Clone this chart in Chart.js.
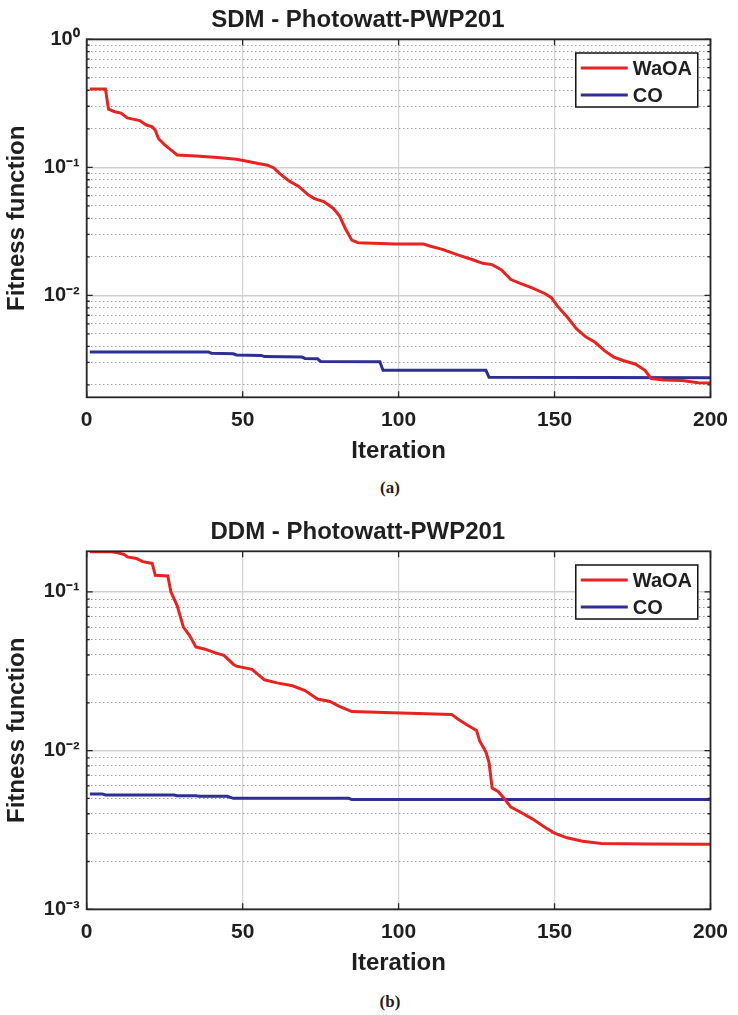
<!DOCTYPE html>
<html>
<head>
<meta charset="utf-8">
<script src="https://cdn.jsdelivr.net/npm/chart.js@4.4.1/dist/chart.umd.min.js"></script>
<style>
  html, body { margin: 0; padding: 0; background: #ffffff; }
  body { width: 738px; height: 1015px; position: relative; overflow: hidden; }
  canvas { position: absolute; left: 0; }
  #c1 { top: 0px; }
  #c2 { top: 512px; }
  .cap { position: absolute; width: 80px; left: 350px; text-align: center;
         font-family: "Liberation Serif", "Times New Roman", serif; font-weight: bold;
         font-size: 17px; color: #1f1f1f; line-height: 20px; }
  #capA { top: 478px; }
  #capB { top: 992px; }
</style>
</head>
<body>
<canvas id="c1" width="738" height="470"></canvas>
<canvas id="c2" width="738" height="470"></canvas>
<div class="cap" id="capA">(a)</div>
<div class="cap" id="capB">(b)</div>
<script>
// ---------- data ----------
const seriesNames = ['WaOA', 'CO'];

// (a) SDM - Photowatt-PWP201
const sdmWaoaIter = [1, 6, 7, 9, 11, 13, 17, 19, 21, 22, 23, 25, 27, 29, 35, 42, 48, 51, 55, 58, 60, 62, 65, 68, 71, 73, 76, 79, 81, 83, 85, 87, 99, 108, 110, 114, 119, 124, 127, 130, 133, 136, 139, 143, 147, 149, 151, 154, 157, 160, 163, 166, 169, 172, 176, 179, 181, 185, 191, 196, 200];
const sdmWaoaFit  = [0.41, 0.41, 0.285, 0.272, 0.265, 0.243, 0.232, 0.215, 0.207, 0.195, 0.168, 0.150, 0.137, 0.125, 0.1225, 0.1195, 0.1155, 0.112, 0.107, 0.104, 0.099, 0.089, 0.078, 0.071, 0.061, 0.057, 0.054, 0.048, 0.042, 0.033, 0.027, 0.0258, 0.0252, 0.0252, 0.0243, 0.0229, 0.0207, 0.0189, 0.0178, 0.0174, 0.0158, 0.0133, 0.0124, 0.0114, 0.0103, 0.0096, 0.0082, 0.0068, 0.0055, 0.00475, 0.0043, 0.0037, 0.0033, 0.0031, 0.0029, 0.0026, 0.00224, 0.00218, 0.00216, 0.00208, 0.00207];
const sdmCoIter = [1, 39, 40, 47, 48, 56, 57, 69, 70, 74, 75, 94, 95, 128, 129, 200];
const sdmCoFit  = [0.00362, 0.00362, 0.00354, 0.00350, 0.00343, 0.00340, 0.00333, 0.00330, 0.00322, 0.00320, 0.00305, 0.00303, 0.0026, 0.0026, 0.00229, 0.00227];

// (b) DDM - Photowatt-PWP201
const ddmWaoaIter = [1, 8, 10, 12, 13, 16, 18, 21, 22, 26, 27, 29, 30, 31, 33, 35, 38, 41, 44, 47, 48, 53, 57, 61, 66, 70, 74, 78, 81, 85, 98, 117, 119, 122, 125, 126, 128, 129, 130, 132, 134, 136, 139, 143, 147, 150, 154, 159, 165, 180, 200];
const ddmWaoaFit  = [0.179, 0.179, 0.176, 0.172, 0.166, 0.162, 0.155, 0.151, 0.127, 0.126, 0.1, 0.082, 0.07, 0.06, 0.053, 0.045, 0.0435, 0.0414, 0.0398, 0.0350, 0.0340, 0.0325, 0.0279, 0.0267, 0.0256, 0.0239, 0.0211, 0.0204, 0.0190, 0.0176, 0.0173, 0.0169, 0.0158, 0.0145, 0.0134, 0.0115, 0.0098, 0.0084, 0.0058, 0.0055, 0.00495, 0.0044, 0.0041, 0.0037, 0.00328, 0.00302, 0.00282, 0.00268, 0.0026, 0.00258, 0.00257];
const ddmCoIter = [1, 5, 6, 28, 29, 35, 36, 45, 47, 84, 85, 200];
const ddmCoFit  = [0.00533, 0.00533, 0.00525, 0.00525, 0.0052, 0.0052, 0.00515, 0.00515, 0.00500, 0.00500, 0.00491, 0.00491];

// axis ticks
const xTicks = [0, 50, 100, 150, 200];
const sdmYTicks = [0.002, 0.003, 0.004, 0.005, 0.006, 0.007, 0.008, 0.009, 0.01, 0.02, 0.03, 0.04, 0.05, 0.06, 0.07, 0.08, 0.09, 0.1, 0.2, 0.3, 0.4, 0.5, 0.6, 0.7, 0.8, 0.9, 1];
const ddmYTicks = [0.001, 0.002, 0.003, 0.004, 0.005, 0.006, 0.007, 0.008, 0.009, 0.01, 0.02, 0.03, 0.04, 0.05, 0.06, 0.07, 0.08, 0.09, 0.1];
const sdmYRange = [0.0016, 1];
const ddmYRange = [0.001, 0.18];
const xRange = [0, 200];

// ---------- styling ----------
const FAMILY = '"Liberation Sans", Arial, Helvetica, sans-serif';
const TEXT = '#1f1f1f';
const RED = '#e8231f';
const BLUE = '#2d2f93';
const AXIS = '#262626';

Chart.defaults.font.family = FAMILY;
Chart.defaults.color = TEXT;

const SUP = {'0':'\u2070','1':'\u00B9','2':'\u00B2','3':'\u00B3','4':'\u2074','5':'\u2075','6':'\u2076','7':'\u2077','8':'\u2078','9':'\u2079','-':'\u207B'};
function isDecade(v) {
  const l = Math.log10(v);
  return Math.abs(l - Math.round(l)) < 1e-6;
}
function logLabel(v) {
  if (!isDecade(v)) return '';
  const e = String(Math.round(Math.log10(v)));
  return '10' + e.split('').map(c => SUP[c]).join('');
}
function toPoints(xs, ys) { return xs.map((x, i) => ({x: x, y: ys[i]})); }

const frame = {
  id: 'matlabFrame',
  afterDraw(chart) {
    const {ctx, chartArea: a} = chart;
    const xs = chart.scales.x, ys = chart.scales.y;
    ctx.save();
    ctx.strokeStyle = AXIS;
    ctx.lineWidth = 1.3;
    // inward ticks
    ctx.beginPath();
    xs.ticks.forEach(t => {
      const px = xs.getPixelForValue(t.value);
      ctx.moveTo(px, a.bottom); ctx.lineTo(px, a.bottom - 6);
      ctx.moveTo(px, a.top); ctx.lineTo(px, a.top + 6);
    });
    ys.ticks.forEach(t => {
      const py = ys.getPixelForValue(t.value);
      const len = isDecade(t.value) ? 6 : 3;
      ctx.moveTo(a.left, py); ctx.lineTo(a.left + len, py);
      ctx.moveTo(a.right, py); ctx.lineTo(a.right - len, py);
    });
    ctx.stroke();
    // box
    ctx.lineWidth = 1.8;
    ctx.strokeRect(a.left, a.top, a.right - a.left, a.bottom - a.top);
    // legend
    const bw = 122, bh = 54;
    const bx = a.right - 12.7 - bw, by = a.top + 13.7;
    ctx.fillStyle = '#ffffff';
    ctx.fillRect(bx, by, bw, bh);
    ctx.lineWidth = 1.5;
    ctx.strokeStyle = '#111111';
    ctx.strokeRect(bx, by, bw, bh);
    ctx.font = 'bold 20px ' + FAMILY;
    ctx.textBaseline = 'middle';
    ctx.textAlign = 'left';
    chart.data.datasets.forEach((ds, i) => {
      const cy = by + 15 + i * 27;
      ctx.strokeStyle = ds.borderColor;
      ctx.lineWidth = 3;
      ctx.beginPath();
      ctx.moveTo(bx + 5, cy); ctx.lineTo(bx + 52, cy);
      ctx.stroke();
      ctx.fillStyle = TEXT;
      ctx.fillText(ds.label, bx + 57, cy + 1);
    });
    ctx.restore();
  }
};

function makeChart(id, title, waoa, co, yTicks, yRange) {
  return new Chart(document.getElementById(id), {
    type: 'line',
    data: {
      datasets: [
        { label: seriesNames[0], data: waoa, borderColor: RED, backgroundColor: RED, borderWidth: 3, pointRadius: 0, tension: 0, fill: false },
        { label: seriesNames[1], data: co, borderColor: BLUE, backgroundColor: BLUE, borderWidth: 3, pointRadius: 0, tension: 0, fill: false }
      ]
    },
    options: {
      responsive: false,
      animation: false,
      devicePixelRatio: 1,
      layout: { padding: { left: 0, right: 22.3, top: 0, bottom: 0 } },
      plugins: {
        legend: { display: false },
        tooltip: { enabled: false },
        title: {
          display: true, text: title, color: TEXT,
          font: { size: 24, weight: 'bold', lineHeight: 1.2 },
          padding: { top: 6, bottom: 4.5 }
        }
      },
      scales: {
        x: {
          type: 'linear', min: xRange[0], max: xRange[1], bounds: 'data',
          afterBuildTicks: s => { s.ticks = xTicks.map(v => ({value: v})); },
          afterFit: s => { s.height = 72.7; },
          ticks: { autoSkip: false, maxRotation: 0, padding: 10, color: TEXT,
                   font: { size: 21, weight: 'bold', lineHeight: 1.2 }, callback: v => String(v) },
          grid: { drawTicks: false, color: '#d2d2d2', lineWidth: 1.2 },
          border: { display: false },
          title: { display: true, text: 'Iteration', color: TEXT,
                   font: { size: 24, weight: 'bold', lineHeight: 1.2 }, padding: { top: 0, bottom: 4.1 } }
        },
        y: {
          type: 'logarithmic', min: yRange[0], max: yRange[1], bounds: 'data',
          afterBuildTicks: s => { s.ticks = yTicks.map(v => ({value: v, major: isDecade(v)})); },
          afterFit: s => { s.width = 86.7; },
          ticks: { autoSkip: false, padding: 7, color: TEXT,
                   font: { size: 20, weight: 'bold', lineHeight: 1.2 }, callback: v => logLabel(v) },
          grid: {
            drawTicks: false,
            color: c => (c.tick && !isDecade(c.tick.value)) ? '#9c9c9c' : '#cfcfcf',
            lineWidth: c => (c.tick && !isDecade(c.tick.value)) ? 1 : 1.4
          },
          border: { display: false, dash: c => (c.tick && !isDecade(c.tick.value)) ? [1.5, 2.5] : [] },
          title: { display: true, text: 'Fitness function', color: TEXT,
                   font: { size: 24, weight: 'bold', lineHeight: 1.2 }, padding: { top: 2.6, bottom: 0 } }
        }
      }
    },
    plugins: [frame]
  });
}

makeChart('c1', 'SDM - Photowatt-PWP201', toPoints(sdmWaoaIter, sdmWaoaFit), toPoints(sdmCoIter, sdmCoFit), sdmYTicks, sdmYRange);
makeChart('c2', 'DDM - Photowatt-PWP201', toPoints(ddmWaoaIter, ddmWaoaFit), toPoints(ddmCoIter, ddmCoFit), ddmYTicks, ddmYRange);
</script>
</body>
</html>
